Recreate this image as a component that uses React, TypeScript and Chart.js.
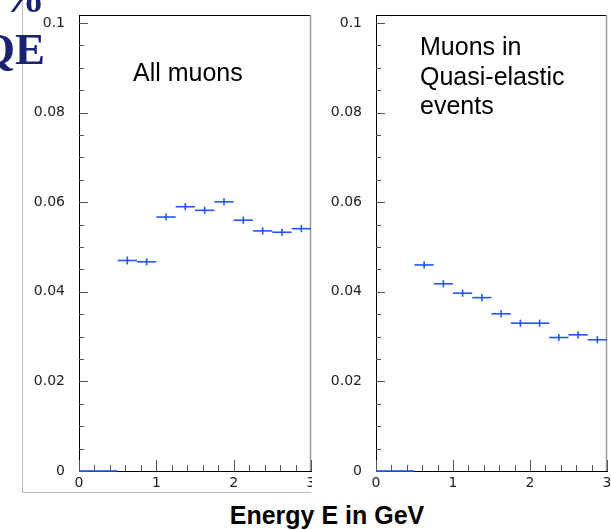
import React, { useEffect, useRef } from "react";
import { Chart, registerables } from "chart.js";

Chart.register(...registerables);

// Histogram bins (energy in GeV)
const binEdges = [0, 0.25, 0.5, 0.75, 1, 1.25, 1.5, 1.75, 2, 2.25, 2.5, 2.75, 3];

// Fraction per bin, all muons
const allMuons = [0, 0, 0.047, 0.0467, 0.0567, 0.059, 0.0582, 0.0601, 0.056, 0.0536, 0.0533, 0.0541];
const allMuonsErr = [0, 0, 0.0009, 0.0008, 0.0008, 0.0008, 0.0008, 0.0008, 0.0008, 0.0008, 0.0008, 0.0008];

// Fraction per bin, muons in quasi-elastic events
const qeMuons = [0, 0, 0.046, 0.0418, 0.0397, 0.0387, 0.0351, 0.033, 0.033, 0.0298, 0.0304, 0.0293];
const qeMuonsErr = [0, 0, 0.0008, 0.0008, 0.0008, 0.0008, 0.0008, 0.0008, 0.0008, 0.0008, 0.0008, 0.0008];

const yTicks = [0, 0.02, 0.04, 0.06, 0.08, 0.1];
const yTickLabels = ["0", "0.02", "0.04", "0.06", "0.08", "0.1"];
const xTicks = [0, 1, 2, 3];
const xTickLabels = ["0", "1", "2", "3"];
const yMin = 0;
const yMax = 0.1018;
const xMin = 0;
const xMax = 3;

const tickFont = { family: "'DejaVu Sans', sans-serif", size: 14 };
const markColor = "#2255ff";

function histPlugin(values: number[], errors: number[]) {
  return {
    id: "histFrame",
    afterDatasetsDraw(chart: any) {
      const { ctx, chartArea: ca, scales } = chart;
      const xs = scales.x;
      const ys = scales.y;
      ctx.save();
      // frame: dark top edge, light right edge
      ctx.lineWidth = 1;
      ctx.strokeStyle = "#000";
      ctx.beginPath();
      ctx.moveTo(ca.left, Math.round(ca.top) + 0.5);
      ctx.lineTo(ca.right, Math.round(ca.top) + 0.5);
      ctx.stroke();
      ctx.strokeStyle = "#9a9a9a";
      ctx.lineWidth = 1.5;
      ctx.beginPath();
      ctx.moveTo(ca.right - 0.5, ca.top);
      ctx.lineTo(ca.right - 0.5, ca.bottom);
      ctx.stroke();

      // inward tick marks on the y axis (major every 0.02, minor every 0.005)
      ctx.strokeStyle = "#555";
      ctx.lineWidth = 1;
      for (let k = 0; k <= 20; k++) {
        const v = k * 0.005;
        const py = Math.round(ys.getPixelForValue(v)) + 0.5;
        const len = k % 4 === 0 ? 9 : 5;
        ctx.beginPath();
        ctx.moveTo(ca.left, py);
        ctx.lineTo(ca.left + len, py);
        ctx.stroke();
      }
      // inward tick marks on the x axis (major every 1, minor every 0.2)
      for (let k = 0; k <= 15; k++) {
        const v = k * 0.2;
        const px = Math.round(xs.getPixelForValue(v)) + 0.5;
        const len = k % 5 === 0 ? 11 : 6;
        ctx.beginPath();
        ctx.moveTo(px, ca.bottom);
        ctx.lineTo(px, ca.bottom - len);
        ctx.stroke();
      }

      // histogram bins with error bars
      ctx.strokeStyle = markColor;
      ctx.lineWidth = 1.6;
      for (let i = 0; i < values.length; i++) {
        const x0 = xs.getPixelForValue(binEdges[i]);
        const x1 = xs.getPixelForValue(binEdges[i + 1]);
        const xc = xs.getPixelForValue((binEdges[i] + binEdges[i + 1]) / 2);
        const py = ys.getPixelForValue(values[i]);
        ctx.beginPath();
        ctx.moveTo(x0, py);
        ctx.lineTo(x1, py);
        ctx.stroke();
        if (errors[i] > 0) {
          ctx.beginPath();
          ctx.moveTo(xc, ys.getPixelForValue(values[i] - errors[i]));
          ctx.lineTo(xc, ys.getPixelForValue(values[i] + errors[i]));
          ctx.stroke();
        }
      }
      ctx.restore();
    },
  };
}

type PanelProps = {
  values: number[];
  errors: number[];
  left: number;
  width: number;
  rightPad: number;
};

function Panel({ values, errors, left, width, rightPad }: PanelProps) {
  const ref = useRef<HTMLCanvasElement>(null);
  useEffect(() => {
    const centers = values.map((_, i) => (binEdges[i] + binEdges[i + 1]) / 2);
    const chart = new Chart(ref.current as HTMLCanvasElement, {
      type: "scatter",
      data: {
        datasets: [
          {
            data: centers.map((x, i) => ({ x, y: values[i] })),
            pointRadius: 0,
            showLine: false,
          },
        ],
      },
      options: {
        animation: false,
        responsive: false,
        events: [],
        plugins: { legend: { display: false }, tooltip: { enabled: false } },
        layout: { padding: { top: 15, right: rightPad, left: 0, bottom: 0 } },
        scales: {
          x: {
            type: "linear",
            min: xMin,
            max: xMax,
            afterBuildTicks: (s: any) => {
              s.ticks = xTicks.map((v) => ({ value: v }));
            },
            afterFit: (s: any) => {
              s.height = 22;
              s.paddingLeft = 0;
              s.paddingRight = 0;
            },
            grid: { display: false, drawTicks: false },
            border: { display: true, color: "#000", width: 1 },
            ticks: {
              padding: 4,
              color: "#222",
              font: tickFont,
              autoSkip: false,
              maxRotation: 0,
              callback: (_v: any, i: number) => xTickLabels[i],
            },
          },
          y: {
            type: "linear",
            min: yMin,
            max: yMax,
            afterBuildTicks: (s: any) => {
              s.ticks = yTicks.map((v) => ({ value: v }));
            },
            afterFit: (s: any) => {
              s.width = 57;
              s.paddingTop = 0;
              s.paddingBottom = 0;
            },
            grid: { display: false, drawTicks: false },
            border: { display: true, color: "#000", width: 1 },
            ticks: {
              padding: 14,
              color: "#222",
              font: tickFont,
              autoSkip: false,
              callback: (_v: any, i: number) => yTickLabels[i],
            },
          },
        },
      },
      plugins: [histPlugin(values, errors)],
    });
    return () => chart.destroy();
  }, []);
  return (
    <canvas
      ref={ref}
      width={width}
      height={493}
      style={{ position: "absolute", left, top: 0, width, height: 493 }}
    />
  );
}

const sans = "'Liberation Sans', Arial, sans-serif";

export default function App() {
  return (
    <div
      style={{
        position: "fixed",
        left: 0,
        top: 0,
        width: 611,
        height: 530,
        overflow: "hidden",
        background: "#fff",
      }}
    >
      <div
        style={{
          position: "absolute",
          left: 22,
          top: -5,
          width: 289,
          height: 498,
          boxSizing: "border-box",
          borderLeft: "1px solid #bdbdbd",
          borderBottom: "1px solid #bdbdbd",
        }}
      />
      <Panel values={allMuons} errors={allMuonsErr} left={22} width={290} rightPad={1} />
      <Panel values={qeMuons} errors={qeMuonsErr} left={319} width={292} rightPad={4} />
      <div
        style={{
          position: "absolute",
          right: 611 - 45,
          top: -29,
          textAlign: "right",
          whiteSpace: "pre",
          fontFamily: "'Liberation Serif', 'Times New Roman', serif",
          fontWeight: "bold",
          fontSize: 45,
          lineHeight: "52px",
          color: "#1c2272",
        }}
      >
        {"%\nQE"}
      </div>
      <div
        style={{
          position: "absolute",
          left: 133,
          top: 58,
          fontFamily: sans,
          fontSize: 25,
          lineHeight: "29px",
          color: "#000",
          whiteSpace: "nowrap",
        }}
      >
        All muons
      </div>
      <div
        style={{
          position: "absolute",
          left: 420,
          top: 32,
          fontFamily: sans,
          fontSize: 25,
          lineHeight: "29.5px",
          color: "#000",
          whiteSpace: "pre",
        }}
      >
        {"Muons in\nQuasi-elastic\nevents"}
      </div>
      <div
        style={{
          position: "absolute",
          left: 0,
          width: 654,
          top: 501,
          textAlign: "center",
          fontFamily: sans,
          fontWeight: "bold",
          fontSize: 25,
          lineHeight: "29px",
          color: "#000",
          whiteSpace: "nowrap",
        }}
      >
        Energy E in GeV
      </div>
    </div>
  );
}
